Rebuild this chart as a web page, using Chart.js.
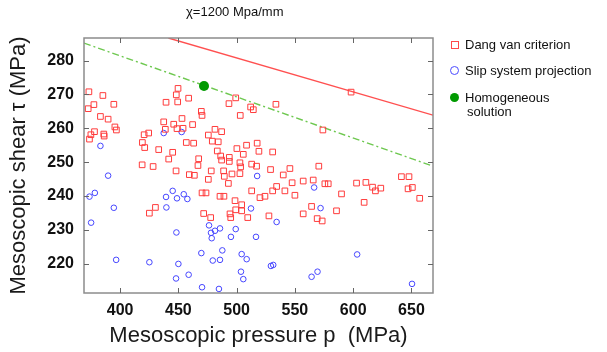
<!DOCTYPE html>
<html>
<head>
<meta charset="utf-8">
<script src="https://cdn.jsdelivr.net/npm/chart.js@4.4.0/dist/chart.umd.min.js"></script>
<style>
  body { margin: 0; background: #fff; }
  #wrap { position: relative; width: 607px; height: 352px; font-family: "Liberation Sans", Arial, sans-serif; color: #111; }
  .txt { position: absolute; white-space: nowrap; line-height: 1; }
  .mk { position: absolute; box-sizing: border-box; }
</style>
</head>
<body>
<div id="wrap">
  <canvas id="c" width="607" height="352"></canvas>
  <div class="txt" style="left:186px;top:5px;font-size:13px">χ=1200 Mpa/mm</div>
  <div class="mk" style="left:451px;top:41px;width:8px;height:8px;border:1px solid #ff4a4a"></div>
  <div class="txt" style="left:465px;top:38px;font-size:13px">Dang van criterion</div>
  <div class="mk" style="left:450px;top:66px;width:9px;height:9px;border:1px solid #4a4aff;border-radius:50%"></div>
  <div class="txt" style="left:465px;top:64px;font-size:13px">Slip system projection</div>
  <div class="mk" style="left:450px;top:93px;width:9px;height:9px;background:#009a00;border-radius:50%"></div>
  <div class="txt" style="left:465px;top:91px;font-size:13px">Homogeneous</div>
  <div class="txt" style="left:467px;top:105px;font-size:13px">solution</div>
</div>
<script>
// tick values
const xTicks = [400, 450, 500, 550, 600, 650]
const yTicks = [220, 230, 240, 250, 260, 270, 280]

// [p, tau]
const dangPoints = [
  [373.2,270.8],[385.2,269.7],[377.5,267.0],[372.6,265.8],[394.6,267.1],[383.1,263.5],[389.7,262.7],
  [395.5,260.4],[396.8,259.5],[378.0,259.0],[374.9,258.1],[386.0,258.3],[386.3,257.7],[373.7,256.8],
  [449.7,271.8],[448.2,269.9],[458.8,268.9],[439.4,267.7],[449.4,267.8],[469.7,265.0],[470.3,263.8],
  [453.1,262.9],[437.4,261.9],[446.0,261.2],[462.2,261.1],[438.8,259.7],[448.8,259.9],[454.0,260.0],
  [420.6,258.1],[424.5,258.6],[419.1,255.8],[456.8,255.8],[463.1,255.6],[421.1,254.3],[433.1,253.7],
  [445.1,252.9],[441.7,250.9],[467.4,251.0],[418.9,249.2],[428.3,248.7],[466.8,249.0],
  [499.2,269.0],[493.4,267.3],[512.0,266.3],[514.3,265.5],[533.7,267.1],[503.1,263.8],[481.4,259.7],
  [487.1,259.0],[475.7,258.0],[479.1,256.2],[484.2,256.0],[500.2,254.0],[508.5,255.0],[517.6,255.6],
  [505.7,252.3],[519.1,253.2],[530.9,253.0],[483.4,253.3],[486.3,251.8],[487.1,250.6],[493.7,251.4],
  [493.7,250.2],[502.8,249.8],[512.9,249.4],[570.5,248.8],[598.2,270.7],[574.0,259.5],
  [448.0,247.4],[459.4,246.3],[463.7,246.1],[470.3,240.9],[430.3,236.6],[425.1,234.9],[471.7,234.8],
  [503.4,248.6],[517.1,248.8],[529.1,247.8],[545.7,248.1],[478.2,247.4],[488.8,247.4],[489.4,245.8],
  [496.0,246.5],[502.8,246.6],[475.7,244.9],[473.7,240.9],[477.7,233.6],[492.9,243.7],[485.7,239.9],
  [489.1,239.9],[498.6,238.6],[504.3,237.4],[499.2,235.9],[504.3,235.6],[494.3,234.7],[494.9,233.6],
  [509.5,233.6],[512.9,241.5],[520.0,239.5],[524.3,239.9],[527.7,234.1],[530.9,241.5],[534.3,242.8],
  [540.0,246.2],[541.4,241.5],[547.6,243.9],[550.0,240.2],[557.1,244.4],[565.7,244.7],[557.1,234.7],
  [564.3,236.9],[569.1,233.3],[573.4,232.6],[575.7,243.6],[578.6,243.6],[585.7,235.6],[590.0,240.6],
  [602.9,243.8],[610.9,244.0],[609.4,238.1],[616.6,242.6],[619.1,241.5],[623.7,242.3],[641.4,245.7],
  [647.9,245.7],[647.1,242.1],[650.8,242.5],[657.1,239.3]
]

const slipPoints = [
  [383.1,254.8],[437.4,258.6],[452.8,258.9],[389.7,246.0],[378.3,240.9],[373.7,239.8],[394.6,236.5],
  [375.1,232.1],[445.1,241.5],[439.4,239.7],[448.8,239.3],[454.6,240.5],[457.7,239.1],[439.7,236.6],
  [448.3,229.2],[469.7,223.1],[396.6,221.1],[425.1,220.4],[450.0,219.9],[458.8,216.7],[448.0,215.6],
  [470.3,213.0],[517.6,245.9],[566.5,242.5],[572.0,236.4],[512.3,236.3],[534.3,232.3],[476.3,231.3],
  [478.0,229.1],[481.4,229.7],[485.7,230.4],[478.6,227.5],[499.2,230.2],[495.1,227.9],[516.6,227.9],
  [487.7,223.9],[479.5,220.9],[485.7,221.1],[504.3,222.8],[508.6,221.3],[529.4,219.3],[531.4,219.6],
  [503.7,217.6],[505.7,215.4],[569.4,217.6],[564.3,216.1],[484.8,212.5],[603.4,222.7],[650.5,214.0]
]

const homogeneous = [[472.0,272.5]]

// criterion lines (end points)
const dangLine = [[441.4,286.7],[668.5,263.9]]
const homoLine = [[369.0,285.2],[668.5,248.8]]

function toXY(arr) {
  return arr.map(d => ({x: d[0], y: d[1]}))
}

const frame = {
  id: 'frame',
  afterDatasetsDraw(chart) {
    const ctx = chart.ctx
    const a = chart.chartArea
    const sx = chart.scales.x, sy = chart.scales.y
    ctx.save()
    ctx.strokeStyle = '#8c8c8c'
    ctx.lineWidth = 1.5
    ctx.strokeRect(a.left, a.top, a.right - a.left, a.bottom - a.top)
    ctx.lineWidth = 1
    ctx.strokeStyle = '#666'
    ctx.beginPath()
    xTicks.forEach(v => {
      const px = Math.round(sx.getPixelForValue(v)) + 0.5
      ctx.moveTo(px, a.bottom); ctx.lineTo(px, a.bottom - 5)
      ctx.moveTo(px, a.top); ctx.lineTo(px, a.top + 5)
    })
    yTicks.forEach(v => {
      const py = Math.round(sy.getPixelForValue(v)) + 0.5
      ctx.moveTo(a.left, py); ctx.lineTo(a.left + 5, py)
      ctx.moveTo(a.right, py); ctx.lineTo(a.right - 5, py)
    })
    ctx.stroke()
    ctx.restore()
  }
}

const font = 'Liberation Sans, Arial, sans-serif'

new Chart(document.getElementById('c'), {
  type: 'scatter',
  data: {
    datasets: [
      {
        label: 'Homogeneous solution',
        data: toXY(homogeneous),
        pointStyle: 'circle',
        pointRadius: 5,
        backgroundColor: '#009a00',
        borderColor: '#009a00',
        borderWidth: 0
      },
      {
        label: 'Dang van criterion',
        data: toXY(dangPoints),
        pointStyle: 'rect',
        pointRadius: 4,
        backgroundColor: 'rgba(0,0,0,0)',
        borderColor: 'rgb(255,60,60)',
        borderWidth: 1
      },
      {
        label: 'Slip system projection',
        data: toXY(slipPoints),
        pointStyle: 'circle',
        pointRadius: 2.8,
        backgroundColor: 'rgba(0,0,0,0)',
        borderColor: 'rgb(70,70,255)',
        borderWidth: 1
      },
      {
        label: 'dang line',
        data: toXY(dangLine),
        showLine: true,
        pointRadius: 0,
        borderColor: 'rgb(255,80,80)',
        borderWidth: 1.4
      },
      {
        label: 'homo line',
        data: toXY(homoLine),
        showLine: true,
        pointRadius: 0,
        borderColor: 'rgb(110,200,80)',
        borderWidth: 1.4,
        borderDash: [7, 3, 2, 3]
      }
    ]
  },
  options: {
    responsive: false,
    animation: false,
    devicePixelRatio: 1,
    layout: { padding: { left: 0, top: 38, right: 174, bottom: 0 } },
    plugins: {
      legend: { display: false },
      tooltip: { enabled: false }
    },
    scales: {
      x: {
        type: 'linear',
        min: 369,
        max: 668.5,
        afterBuildTicks: s => { s.ticks = xTicks.map(v => ({value: v})) },
        afterFit: s => { s.height = 59 },
        grid: { display: false, drawTicks: false },
        border: { display: false },
        ticks: { padding: 8, color: '#111', font: { family: font, size: 16, weight: 'bold' } },
        title: {
          display: true,
          text: 'Mesoscopic pressure p  (MPa)',
          color: '#1a1a1a',
          padding: { top: 0, bottom: 3 },
          font: { family: font, size: 22 }
        }
      },
      y: {
        type: 'linear',
        min: 211.3,
        max: 286.7,
        afterBuildTicks: s => { s.ticks = yTicks.map(v => ({value: v})) },
        afterFit: s => { s.width = 84 },
        grid: { display: false, drawTicks: false },
        border: { display: false },
        ticks: { padding: 10, color: '#111', font: { family: font, size: 16, weight: 'bold' } },
        title: {
          display: true,
          text: 'Mesoscopic shear τ (MPa)',
          color: '#1a1a1a',
          padding: { top: 6, bottom: 0 },
          font: { family: font, size: 22 }
        }
      }
    }
  },
  plugins: [frame]
})
</script>
</body>
</html>
